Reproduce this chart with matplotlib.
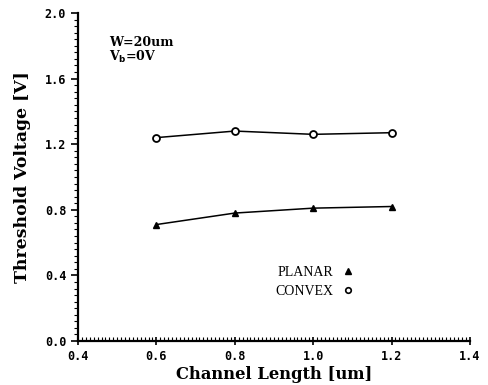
import matplotlib
matplotlib.use("Agg")
import matplotlib.pyplot as plt
import matplotlib.lines as mlines
from matplotlib.ticker import MultipleLocator, FormatStrFormatter

channel_length = [0.6, 0.8, 1.0, 1.2]
planar_vt = [0.71, 0.78, 0.81, 0.82]
convex_vt = [1.24, 1.28, 1.26, 1.27]

fig = plt.figure(figsize=(4.89, 3.85), dpi=100)
ax = fig.add_axes([0.1595, 0.1143, 0.8015, 0.852])

ax.plot(channel_length, planar_vt, color="black", lw=1.1, marker="^", ms=5,
        mfc="black", mec="black")
ax.plot(channel_length, convex_vt, color="black", lw=1.1, marker="o", ms=5,
        mfc="white", mec="black", mew=1.3)

ax.set_xlim(0.4, 1.4)
ax.set_ylim(0.0, 2.0)
ax.spines["top"].set_visible(False)
ax.spines["right"].set_visible(False)
ax.spines["left"].set_linewidth(1.6)
ax.spines["bottom"].set_linewidth(1.6)

ax.xaxis.set_major_locator(MultipleLocator(0.2))
ax.xaxis.set_minor_locator(MultipleLocator(0.01))
ax.yaxis.set_major_locator(MultipleLocator(0.4))
ax.yaxis.set_minor_locator(MultipleLocator(0.04))
ax.xaxis.set_major_formatter(FormatStrFormatter("%.1f"))
ax.yaxis.set_major_formatter(FormatStrFormatter("%.1f"))
ax.tick_params(axis="x", which="major", direction="inout", length=6, width=1.2)
ax.tick_params(axis="x", which="minor", direction="in", length=3, width=0.8)
ax.tick_params(axis="y", which="major", direction="out", length=5, width=1.2)
ax.tick_params(axis="y", which="minor", direction="out", length=3, width=0.8)
for lab in ax.get_xticklabels() + ax.get_yticklabels():
    lab.set_fontfamily("DejaVu Sans Mono")
    lab.set_fontweight("bold")
    lab.set_fontsize(8.5)

ax.set_xlabel("Channel Length [um]", fontfamily="DejaVu Serif", fontweight="bold",
              fontsize=11.8, labelpad=2)
ax.set_ylabel("Threshold Voltage [V]", fontfamily="DejaVu Serif", fontweight="bold",
              fontsize=12.4, labelpad=10)

ax.text(0.08, 0.91, "W=20um", transform=ax.transAxes, fontfamily="DejaVu Serif",
        fontweight="bold", fontsize=9, va="center")
ax.text(0.08, 0.865, r"V$_\mathbf{b}$=0V", transform=ax.transAxes,
        fontfamily="DejaVu Serif", fontweight="bold", fontsize=9, va="center")

h1 = mlines.Line2D([], [], color="black", marker="^", ls="none", ms=4)
h2 = mlines.Line2D([], [], color="black", marker="o", ls="none", ms=4,
                   mfc="white", mew=1.2)
leg = ax.legend([h1, h2], ["PLANAR", "CONVEX"], markerfirst=False, frameon=False,
                loc="center", bbox_to_anchor=(0.605, 0.18), handlelength=1.0,
                handletextpad=0.6, labelspacing=0.45,
                prop={"family": "Liberation Serif", "size": 10})

fig.savefig("out.png", dpi=100)
